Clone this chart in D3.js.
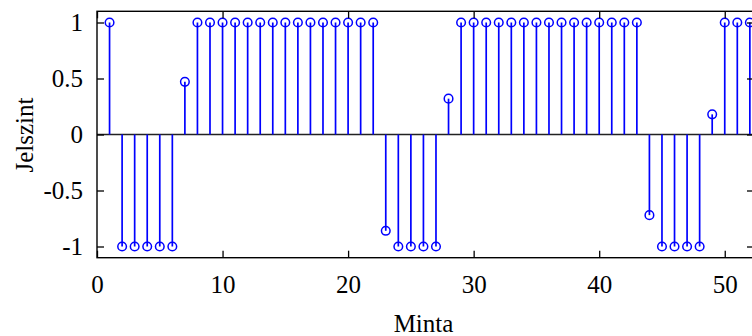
<!DOCTYPE html>
<html><head><meta charset="utf-8">
<script src="https://cdn.jsdelivr.net/npm/d3@7"></script>
<style>body{margin:0;background:#fff}svg{display:block}</style>
</head><body><svg id="c" width="752" height="336"></svg>
<script>
const samples = d3.range(1, 53);
const values = [1,-1,-1,-1,-1,-1,0.47,1,1,1,1,1,1,1,1,1,1,1,1,1,1,1,-0.86,-1,-1,-1,-1,0.32,1,1,1,1,1,1,1,1,1,1,1,1,1,1,1,-0.72,-1,-1,-1,-1,0.18,1,1,1];
const xTicks = [0,10,20,30,40,50];
const yTicks = [-1,-0.5,0,0.5,1];
const yTickLabels = ["-1","-0.5","0","0.5","1"];
const xLabel = "Minta", yLabel = "Jelszint";
const FONT = '"Liberation Serif", "Times New Roman", serif';

const svg = d3.select("#c");
const L = 97, R = 754, T = 11.3, B = 257.7;
const x = d3.scaleLinear().domain([0, 52.33]).range([L, R]);
const y = d3.scaleLinear().domain([-1.1, 1.1]).range([B, T]);
const tl = 7;

// baseline
svg.append("line").attr("x1", L).attr("x2", R).attr("y1", y(0)).attr("y2", y(0)).attr("stroke", "#222").attr("stroke-width", 1.3);

const data = samples.map((s, i) => ({s, v: values[i]}));
svg.selectAll("line.stem").data(data).join("line").attr("class", "stem")
  .attr("x1", d => x(d.s)).attr("x2", d => x(d.s)).attr("y1", y(0)).attr("y2", d => y(d.v))
  .attr("stroke", "#0000ff").attr("stroke-width", 1.7);
svg.selectAll("circle").data(data).join("circle")
  .attr("cx", d => x(d.s)).attr("cy", d => y(d.v)).attr("r", 4.3)
  .attr("fill", "none").attr("stroke", "#0000ff").attr("stroke-width", 1.5);

function styleAxis(g) {
  g.attr("font-family", FONT);
  g.select(".domain").remove();
  g.selectAll("line").attr("stroke", "#000").attr("stroke-width", 1.3);
  g.selectAll("text").attr("font-size", 25).attr("font-family", FONT).attr("fill", "#000");
}
// bottom
svg.append("g").attr("transform", `translate(0,${B})`)
  .call(d3.axisBottom(x).tickValues(xTicks).tickSize(-tl).tickPadding(18).tickFormat(d3.format("d")))
  .call(styleAxis);
// top
svg.append("g").attr("transform", `translate(0,${T})`)
  .call(d3.axisTop(x).tickValues(xTicks).tickSize(-tl).tickFormat(""))
  .call(styleAxis);
// left
svg.append("g").attr("transform", `translate(${L},0)`)
  .call(d3.axisLeft(y).tickValues(yTicks).tickSize(-tl).tickPadding(14).tickFormat((d, i) => yTickLabels[i]))
  .call(styleAxis);
// right
svg.append("g").attr("transform", `translate(${R},0)`)
  .call(d3.axisRight(y).tickValues(yTicks).tickSize(-tl).tickFormat(""))
  .call(styleAxis);

// frame
svg.append("rect").attr("x", L).attr("y", T).attr("width", R - L).attr("height", B - T)
  .attr("fill", "none").attr("stroke", "#000").attr("stroke-width", 1.4);

svg.append("text").attr("x", (L + R) / 2 - 2).attr("y", 331.5).attr("text-anchor", "middle")
  .attr("font-family", FONT).attr("font-size", 25).text(xLabel);
svg.append("text").attr("transform", `translate(33,135) rotate(-90)`).attr("text-anchor", "middle")
  .attr("font-family", FONT).attr("font-size", 25).text(yLabel);
</script></body></html>
